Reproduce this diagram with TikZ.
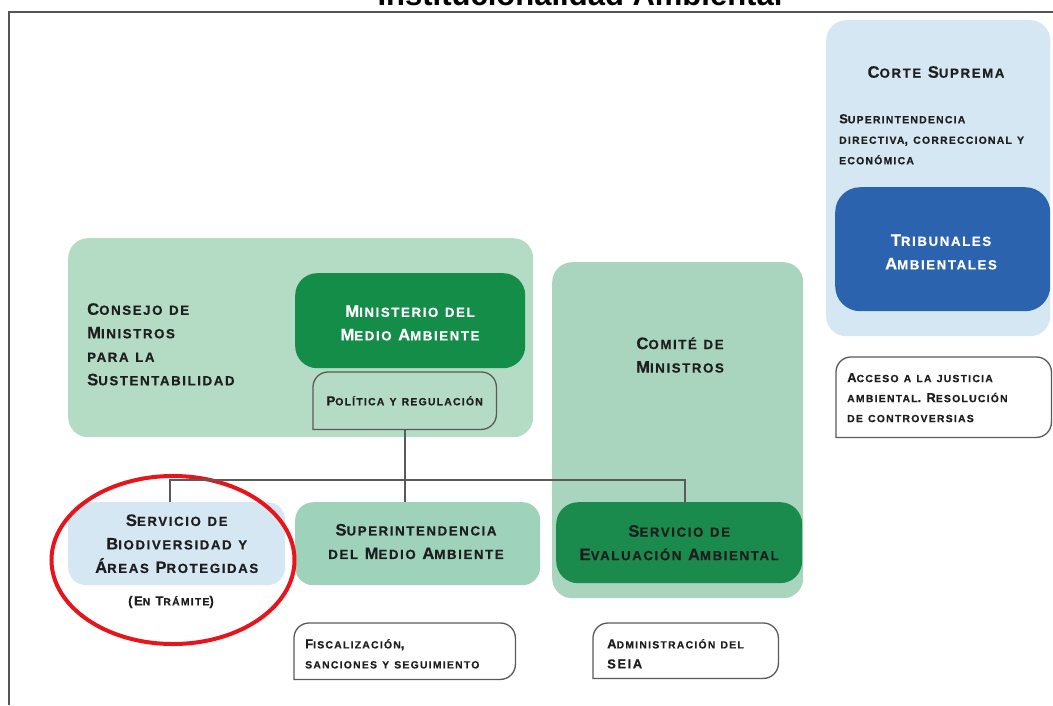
\documentclass[tikz,border=0pt]{standalone}
\usepackage{fontspec}
\setmainfont{Liberation Sans}
\newfontfamily\titlefont{Liberation Sans}
\newfontfamily\scf{Liberation Sans}[LetterSpace=12, BoldFeatures={FakeBold=0.5}]
\usetikzlibrary{shapes.geometric}
\newcommand\fscsmall{\fontsize{\fpeval{0.8*\csname f@size\endcsname}}{\baselineskip}\selectfont}
\ExplSyntaxOn
\tl_new:N \l__fsc_a_tl
\tl_new:N \l__fsc_b_tl
\seq_new:N \l__fsc_words_seq
\seq_new:N \l__fsc_out_seq
\cs_new_protected:Nn \__fsc_char:n
  {
    \tl_set:Nn \l__fsc_a_tl {#1}
    \tl_set:Nx \l__fsc_b_tl { \text_uppercase:n {#1} }
    \tl_if_eq:NNTF \l__fsc_a_tl \l__fsc_b_tl
      { #1 }
      { { \fscsmall \l__fsc_b_tl } }
  }
\cs_new_protected:Nn \__fsc_word:n { \tl_map_function:nN {#1} \__fsc_char:n }
\NewDocumentCommand \fsc { m }
  {
    \seq_set_split:Nnn \l__fsc_words_seq { ~ } {#1}
    \seq_set_map:NNn \l__fsc_out_seq \l__fsc_words_seq { \__fsc_word:n {##1} }
    \seq_use:Nn \l__fsc_out_seq { ~ }
  }
\ExplSyntaxOff
\definecolor{consbg}{HTML}{B4DBC3}
\definecolor{comibg}{HTML}{A9D5BF}
\definecolor{dgreen}{HTML}{148D48}
\definecolor{seagreen}{HTML}{1B8B4D}
\definecolor{mint}{HTML}{9ED2BB}
\definecolor{lblue}{HTML}{D6E7F4}
\definecolor{tblue}{HTML}{2B63AE}
\definecolor{txt}{HTML}{1E1E1E}
\definecolor{framec}{HTML}{555555}
\definecolor{connc}{HTML}{5A5A5A}
\definecolor{ringred}{HTML}{E8141B}
\tikzset{
  box/.style={rounded corners=20pt, inner sep=0pt, draw=none, anchor=north west},
  big/.style={font=\scf\bfseries\fontsize{16.6}{23.5}\selectfont, text=txt, align=center},
  small/.style={font=\scf\bfseries\fontsize{13}{20}\selectfont, text=txt, inner sep=0pt},
  tagbox/.style={draw=connc, line width=1.3pt},
  conn/.style={draw=connc, line width=2pt},
}
\begin{document}
\begin{tikzpicture}[x=1pt,y=-1pt]
\useasboundingbox (0,0) rectangle (1053,705);
\clip (0,0) rectangle (1053,705);
\fill[white] (0,0) rectangle (1053,705);
% title and frame
\node[font=\titlefont\bfseries\fontsize{31}{31}\selectfont, anchor=base] (title) at (580,5) {Institucionalidad Ambiental};
\coordinate (frTL) at (9,12);
\coordinate (frTR) at (1053,12);
\coordinate (frBL) at (9,705);
\draw[framec, line width=2.2pt] (frTR) -- (frTL) -- (frBL);
% Consejo
\node[box, fill=consbg, minimum width=465, minimum height=199] (consejo) at (68,238) {};
\node[big, align=left, anchor=north west, inner sep=0pt] (consejotxt) at (87,303) {\fsc{Consejo de}\\\fsc{Ministros}\\\fsc{para la}\\\fsc{Sustentabilidad}};
\node[box, fill=dgreen, minimum width=230, minimum height=95, rounded corners=22pt] (minis) at (295,273) {};
\node[big, text=white] (ministxt) at (410,323) {\fsc{Ministerio del}\\\fsc{Medio Ambiente}};
\node[minimum width=183, minimum height=57, inner sep=0, anchor=north west, small] (pol) at (313,372) {\fsc{Política y regulación}};
\draw[tagbox] (pol.south west) [rounded corners=15pt] -- (pol.north west) -- (pol.north east) -- (pol.south east) [sharp corners] -- cycle;
% Comite
\node[box, fill=comibg, minimum width=251, minimum height=336] (comite) at (552,262) {};
\node[big] (comitetxt) at (680,355) {\fsc{Comité de}\\\fsc{Ministros}};
\node[box, fill=seagreen, minimum width=246, minimum height=81, rounded corners=22pt, big] (sea) at (556,502) {\fsc{Servicio de}\\\fsc{Evaluación Ambiental}};
% Superintendencia
\node[box, fill=mint, minimum width=245, minimum height=83, rounded corners=18pt] (sup) at (295,502) {};
\node[big] (suptxt) at (416,541.5) {\fsc{Superintendencia}\\\fsc{del Medio Ambiente}};
% Biodiversidad
\node[box, fill=lblue, minimum width=217, minimum height=83, rounded corners=18pt, big] (bio) at (68,502) {\fsc{Servicio de}\\\fsc{Biodiversidad y}\\\fsc{Áreas Protegidas}};
\node[small] (tram) at (171,602) {\fsc{(En Trámite)}};
\node[draw=ringred, line width=4pt, ellipse, minimum width=243, minimum height=168, inner sep=0] (ring) at (173,560) {};
% tag boxes
\node[minimum width=221, minimum height=56, inner sep=0, anchor=north west] (fisc) at (294,623) {};
\draw[tagbox] (fisc.south west) [rounded corners=15pt] -- (fisc.north west) -- (fisc.north east) -- (fisc.south east) [sharp corners] -- cycle;
\node[small, align=left, anchor=north west] (fisctxt) at (305,639) {\fsc{Fiscalización,}\\\fsc{sanciones y seguimiento}};
\node[minimum width=185, minimum height=55, inner sep=0, anchor=north west] (adm) at (593,623) {};
\draw[tagbox] (adm.south west) [rounded corners=15pt] -- (adm.north west) -- (adm.north east) -- (adm.south east) [sharp corners] -- cycle;
\node[small, align=left, anchor=north west] (admtxt) at (607,639) {\fsc{Administración del}\\\fsc{SEIA}};
% Corte
\node[box, fill=lblue, minimum width=224, minimum height=316] (corte) at (826,20) {};
\node[big] (cortetxt) at (936,72) {\fsc{Corte Suprema}};
\node[small, align=left, anchor=north west, font=\scf\bfseries\fontsize{13}{20.5}\selectfont] (supdir) at (839,114) {\fsc{Superintendencia}\\\fsc{directiva, correccional y}\\\fsc{económica}};
\node[box, fill=tblue, minimum width=215, minimum height=124, rounded corners=25pt] (trib) at (835,187) {};
\node[big, text=white] (tribtxt) at (941,252) {\fsc{Tribunales}\\\fsc{Ambientales}};
\node[minimum width=215, minimum height=80, inner sep=0, anchor=north west] (acceso) at (836,357) {};
\draw[tagbox] (acceso.south west) [rounded corners=15pt] -- (acceso.north west) -- (acceso.north east) -- (acceso.south east) [sharp corners] -- cycle;
\node[small, align=left, anchor=north west] (accesotxt) at (847,373) {\fsc{Acceso a la justicia}\\\fsc{ambiental. Resolución}\\\fsc{de controversias}};
% connectors
\coordinate (busL) at (170,480);
\coordinate (busR) at (685,480);
\draw[conn] (pol.south) -- (pol.south |- busL);
\draw[conn] (bio.north -| busL) -- (busL) -- (busR) -- (sea.north -| busR);
\draw[conn] (pol.south |- busL) -- (sup.north -| pol.south);
\end{tikzpicture}
\end{document}
